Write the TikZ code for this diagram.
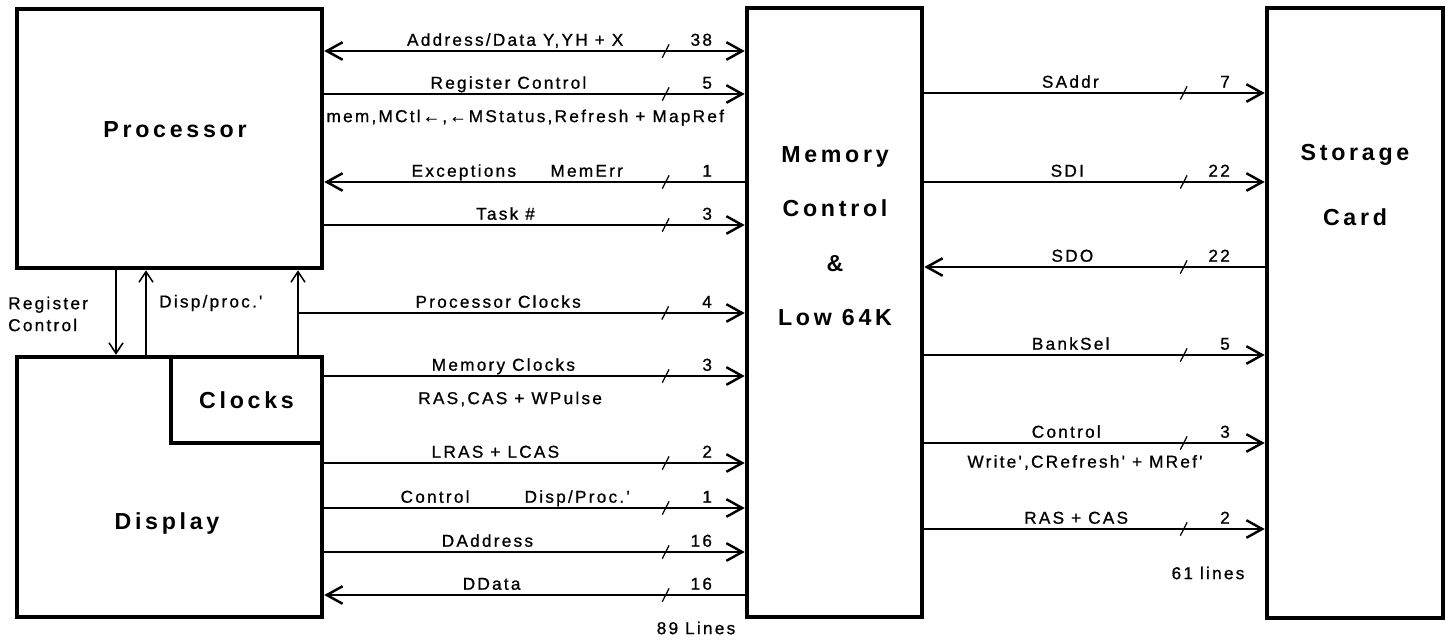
\documentclass[tikz,border=0pt]{standalone}
\usepackage{fontspec}
\setmainfont{Liberation Sans}
\newfontfamily\lblfont[LetterSpace=13,FakeBold=0.8]{Liberation Sans}
\newfontfamily\ttlfont[LetterSpace=16]{Liberation Sans}
\usetikzlibrary{arrows.meta}

\begin{document}
\begin{tikzpicture}[
        x=0.02cm, y=-0.02cm,
        font=\lblfont\fontsize{9.8}{12.5}\selectfont,
        box/.style={
            draw,
            line width=2.6pt,
            inner sep=0pt
        },
        title/.style={
            font=\ttlfont\bfseries\fontsize{13.2}{31}\selectfont,
            align=center
        },
        bus/.style={line width=1.4pt},
        wire/.style={line width=0.9pt, >={Straight Barb[length=6pt,width=8pt]}},
        lbl/.style={anchor=base, yshift=3pt, inner sep=0pt},
        sub/.style={anchor=base, yshift=-16pt, inner sep=0pt},
        num/.style={anchor=base east, yshift=3pt, inner sep=0pt},
        slash/.style={
            draw,
            line width=0.7pt,
            inner sep=0pt, outer sep=0pt,
            minimum width=0pt, minimum height=8.5pt,
            rotate=-27
        },
        >={Straight Barb[length=9pt,width=10pt]}
    ]

    \useasboundingbox (0,0) rectangle (1450,640);

    % blocks
    \node[box, minimum width=6.1cm, minimum height=5.18cm] (proc) at (169.5,138.5) {};
    \node[box, minimum width=6.1cm, minimum height=5.2cm] (disp) at (169.5,487) {};
    \node[box, minimum width=3.02cm, minimum height=1.72cm, title] (clk) at (246.5,400) {Clocks};
    \node[box, minimum width=3.5cm, minimum height=12.18cm] (mem) at (834.5,312.5) {};
    \node[box, minimum width=3.52cm, minimum height=12.2cm] (stor) at (1355,313) {};

    \node[title] (proctxt) at (175,130) {Processor};
    \node[title] (disptxt) at (167,523) {Display};
    \node[title] (memtxt) at (835,236) {Memory\\Control\\\&\\Low 64K};
    \node[title] (stortxt) at (1355,185) {Storage\\[5.7pt]Card};

    % processor / display links
    \coordinate (rc) at (116,0);
    \coordinate (dp) at (146,0);
    \coordinate (ck) at (298,0);
    \coordinate (ckbr) at (298,313);
    \draw[wire, ->] (proc.south -| rc) -- (disp.north -| rc);
    \draw[wire, <-] (proc.south -| dp) -- (disp.north -| dp);
    \draw[wire, <-] (proc.south -| ck) -- (clk.north -| ck);
    \node[anchor=west, align=left] (rctxt) at (2,314) {Register\\Control};
    \node[anchor=west] (dptxt) at (153,303) {Disp/proc.'};

    % buses to memory control
    \draw[bus, <->] (proc.east |- 0,51) -- (mem.west |- 0,51)
        node[lbl, pos=0.454] {Address/Data Y,YH + X}
        node[slash, pos=0.812] {}
        node[num, pos=0.925] {38};
    \draw[bus, ->] (proc.east |- 0,94) -- (mem.west |- 0,94)
        node[lbl, pos=0.438] {Register Control}
        node[sub, pos=0.478] {mem,MCtl←,←MStatus,Refresh + MapRef}
        node[slash, pos=0.812] {}
        node[num, pos=0.925] {5};
    \draw[bus, <-] (proc.east |- 0,182) -- (mem.west |- 0,182)
        node[lbl, pos=0.459] {Exceptions\hspace{2em}MemErr}
        node[slash, pos=0.812] {}
        node[num, pos=0.925] {1};
    \draw[bus, ->] (proc.east |- 0,225) -- (mem.west |- 0,225)
        node[lbl, pos=0.431] {Task \#}
        node[slash, pos=0.812] {}
        node[num, pos=0.925] {3};
    \draw[bus, ->] (ckbr) -- (mem.west |- ckbr)
        node[lbl, pos=0.448] {Processor Clocks}
        node[slash, pos=0.822] {}
        node[num, pos=0.929] {4};
    \draw[bus, ->] (clk.east |- 0,376) -- (mem.west |- 0,376)
        node[lbl, pos=0.426] {Memory Clocks}
        node[sub, pos=0.442] {RAS,CAS + WPulse}
        node[slash, pos=0.812] {}
        node[num, pos=0.925] {3};
    \draw[bus, ->] (disp.east |- 0,463) -- (mem.west |- 0,463)
        node[lbl, pos=0.407] {LRAS + LCAS}
        node[slash, pos=0.812] {}
        node[num, pos=0.925] {2};
    \draw[bus, ->] (disp.east |- 0,508) -- (mem.west |- 0,508)
        node[lbl, pos=0.454] {Control\hspace{3.2em}Disp/Proc.'}
        node[slash, pos=0.812] {}
        node[num, pos=0.925] {1};
    \draw[bus, ->] (disp.east |- 0,552) -- (mem.west |- 0,552)
        node[lbl, pos=0.388] {DAddress}
        node[slash, pos=0.812] {}
        node[num, pos=0.925] {16};
    \draw[bus, <-] (disp.east |- 0,595) -- (mem.west |- 0,595)
        node[lbl, pos=0.398] {DData}
        node[slash, pos=0.812] {}
        node[num, pos=0.925] {16};
    \node (lines89) at (696,628) {89 Lines};

    % buses to storage card
    \draw[bus, ->] (mem.east |- 0,93) -- (stor.west |- 0,93)
        node[lbl, pos=0.429] {SAddr}
        node[slash, pos=0.762] {}
        node[num, pos=0.901] {7};
    \draw[bus, ->] (mem.east |- 0,182) -- (stor.west |- 0,182)
        node[lbl, pos=0.42] {SDI}
        node[slash, pos=0.762] {}
        node[num, pos=0.901] {22};
    \draw[bus, <-] (mem.east |- 0,267) -- (stor.west |- 0,267)
        node[lbl, pos=0.435] {SDO}
        node[slash, pos=0.762] {}
        node[num, pos=0.901] {22};
    \draw[bus, ->] (mem.east |- 0,355) -- (stor.west |- 0,355)
        node[lbl, pos=0.43] {BankSel}
        node[slash, pos=0.762] {}
        node[num, pos=0.901] {5};
    \draw[bus, ->] (mem.east |- 0,443) -- (stor.west |- 0,443)
        node[lbl, pos=0.417] {Control}
        node[sub, pos=0.472, yshift=2pt] {Write',CRefresh' + MRef'}
        node[slash, pos=0.762] {}
        node[num, pos=0.901] {3};
    \draw[bus, ->] (mem.east |- 0,529) -- (stor.west |- 0,529)
        node[lbl, pos=0.446] {RAS + CAS}
        node[slash, pos=0.762] {}
        node[num, pos=0.901] {2};
    \node (lines61) at (1208,573) {61 lines};

\end{tikzpicture}
\end{document}
